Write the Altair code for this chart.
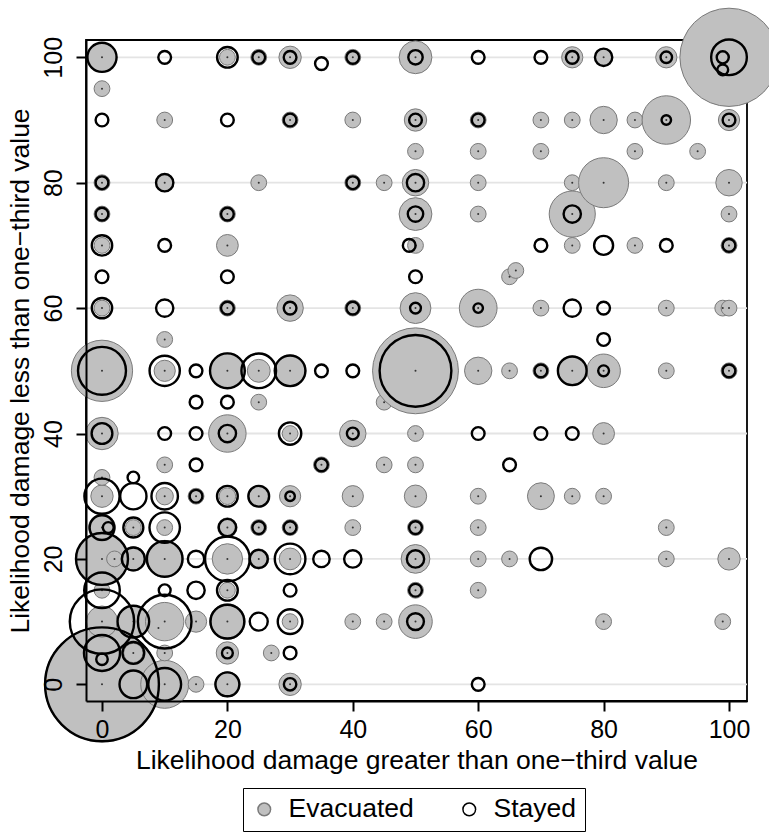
import altair as alt
import pandas as pd

FONT = "Liberation Sans"

# ---- Evacuated (grey filled markers): x, y, weight ----
evac_x = [0, 20, 25, 30, 40, 50, 75, 80, 90, 100,
          0,
          10, 30, 40, 50, 60, 70, 75, 80, 85, 90, 100,
          50, 60, 70, 85, 95,
          0, 10, 25, 40, 45, 50, 60, 75, 80, 90, 100,
          0, 20, 50, 60, 75, 100,
          0, 20, 50, 75, 85, 100,
          66, 65,
          0, 20, 30, 40, 50, 60, 70, 90, 99, 100,
          10,
          0, 10, 20, 25, 30, 50, 60, 65, 70, 75, 80, 90, 100,
          25, 45,
          0, 20, 30, 40, 50, 80,
          10, 35, 45, 50,
          0,
          0, 10, 15, 20, 25, 30, 40, 50, 60, 70, 75, 80,
          0, 5, 10, 20, 25, 30, 40, 50, 60, 90,
          0, 2, 5, 10, 20, 25, 30, 50, 60, 65, 90, 100,
          0, 20, 50, 60,
          0, 5, 9, 10, 15, 20, 30, 40, 45, 50, 80, 99,
          5, 10, 20, 27,
          0, 10, 15, 20, 30]
evac_y = [100, 100, 100, 100, 100, 100, 100, 100, 100, 100,
          95,
          90, 90, 90, 90, 90, 90, 90, 90, 90, 90, 90,
          85, 85, 85, 85, 85,
          80, 80, 80, 80, 80, 80, 80, 80, 80, 80, 80,
          75, 75, 75, 75, 75, 75,
          70, 70, 70, 70, 70, 70,
          66, 65,
          60, 60, 60, 60, 60, 60, 60, 60, 60, 60,
          55,
          50, 50, 50, 50, 50, 50, 50, 50, 50, 50, 50, 50, 50,
          45, 45,
          40, 40, 40, 40, 40, 40,
          35, 35, 35, 35,
          33,
          30, 30, 30, 30, 30, 30, 30, 30, 30, 30, 30, 30,
          25, 25, 25, 25, 25, 25, 25, 25, 25, 25,
          20, 20, 20, 20, 20, 20, 20, 20, 20, 20, 20, 20,
          15, 15, 15, 15,
          10, 10, 9, 10, 10, 10, 10, 10, 10, 10, 10, 10,
          5, 5, 5, 5,
          0, 0, 0, 0, 0]
evac_w = [3.5, 1, 1, 2, 1, 4.3, 1.8, 1.2, 1.8, 38.6,
          1,
          1, 1, 1, 2, 1, 1, 1, 3, 1, 9.4, 1.8,
          1, 1, 1, 1, 1,
          1, 1.3, 1, 1, 1, 2.8, 1, 1, 10, 1, 2.8,
          1, 1, 4.3, 1, 8.5, 1,
          1, 1.9, 1, 1, 1, 1,
          1, 1,
          1, 1, 2.8, 1, 3.8, 5.7, 1, 1, 1, 1,
          1,
          15, 1.8, 5, 2.1, 4, 29.5, 3, 1, 1, 3.5, 4.5, 1, 1,
          1, 1,
          4.2, 5.6, 1, 2.8, 1, 1.9,
          1, 1, 1, 1,
          1,
          2, 1.2, 1, 1.1, 1.8, 1.8, 1.8, 2, 1, 2.9, 1, 1,
          2.9, 1, 1, 1.5, 1, 1, 1, 1, 1, 1,
          11, 1, 2.4, 5.5, 3.7, 1.6, 1.9, 3.3, 1, 1, 1, 2,
          1, 1, 1, 1,
          3.9, 4, 1, 5.9, 1.8, 5, 1, 1, 1, 4.5, 1, 1,
          1.5, 1, 2, 1,
          53, 9.2, 1, 2.5, 2]

# ---- Stayed (black hollow markers): x, y, weight ----
stay_x = [0, 10, 20, 25, 30, 35, 40, 50, 60, 70, 75, 80, 90, 100, 99, 99,
          0, 20, 30, 50, 60, 90, 100,
          0, 10, 40, 50,
          0, 20, 50, 75,
          0, 10, 49, 70, 80, 90, 100,
          0, 20, 50,
          0, 10, 20, 30, 40, 50, 60, 75, 80,
          80,
          0, 10, 15, 20, 25, 30, 35, 40, 50, 70, 75, 80, 100,
          15, 20,
          0, 10, 15, 20, 30, 40, 60, 70, 75,
          15, 35, 65,
          5,
          0, 5, 10, 15, 20, 25, 30,
          0, 1, 5, 10, 20, 25, 30, 50,
          0, 5, 10, 15, 20, 25, 30, 35, 40, 50, 70,
          0, 10, 15, 20, 30, 50,
          0, 5, 10, 20, 25, 30, 50,
          0, 0, 5, 20, 30,
          0, 5, 10, 20, 30, 60]
stay_y = [100, 100, 100, 100, 100, 99, 100, 100, 100, 100, 100, 100, 100, 100, 100, 98,
          90, 90, 90, 90, 90, 90, 90,
          80, 80, 80, 80,
          75, 75, 75, 75,
          70, 70, 70, 70, 70, 70, 70,
          65, 65, 65,
          60, 60, 60, 60, 60, 60, 60, 60, 60,
          55,
          50, 50, 50, 50, 50, 50, 50, 50, 50, 50, 50, 50, 50,
          45, 45,
          40, 40, 40, 40, 40, 40, 40, 40, 40,
          35, 35, 35,
          33,
          30, 30, 30, 30, 30, 30, 30,
          25, 25, 25, 25, 25, 25, 25, 25,
          20, 20, 20, 20, 20, 20, 20, 20, 20, 20, 20,
          15, 15, 15, 15, 15, 15,
          10, 10, 10, 10, 10, 10, 10,
          5, 4, 5, 5, 5,
          0, 0, 0, 0, 0, 0]
stay_w = [3.4, 0.65, 1.7, 0.65, 0.65, 0.65, 0.65, 0.83, 0.65, 0.65, 0.65, 1.2, 0.53, 5.1, 0.58, 0.47,
          0.65, 0.65, 0.65, 0.65, 0.65, 0.36, 0.65,
          0.65, 1.2, 0.65, 1.2,
          0.65, 0.65, 0.95, 1.2,
          1.66, 0.65, 0.65, 0.65, 1.44, 0.65, 0.65,
          0.65, 0.65, 0.65,
          1.66, 1.2, 0.65, 0.65, 0.65, 0.47, 0.36, 1.2, 0.65,
          0.65,
          9.2, 3.66, 0.65, 4.84, 4.8, 3.75, 0.65, 0.65, 20.6, 0.65, 3.3, 0.47, 0.65,
          0.65, 0.65,
          1.72, 0.65, 0.65, 1.2, 2.0, 0.56, 0.65, 0.65, 0.65,
          0.65, 0.65, 0.65,
          0.53,
          4.95, 2.76, 2.8, 0.65, 1.72, 1.72, 0.36,
          2.44, 0.47, 1.6, 3.7, 1.2, 0.65, 0.65, 0.65,
          10.8, 2.1, 5.06, 1.08, 8.0, 1.3, 3.75, 1.08, 1.2, 1.2, 2.0,
          5.06, 0.56, 1.2, 1.72, 0.65, 0.65,
          16.6, 4.0, 11.5, 4.57, 1.3, 2.44, 1.13,
          5.2, 0.53, 1.9, 0.47, 0.65,
          51.8, 3.06, 4.3, 2.29, 0.62, 0.65]

tick_values = [0, 20, 40, 60, 80, 100]
groups = ["Evacuated", "Stayed"]
x_title = "Likelihood damage greater than one\u2212third value"
y_title = "Likelihood damage less than one\u2212third value"

evac = pd.DataFrame({"x": evac_x, "y": evac_y, "w": evac_w, "group": "Evacuated"})
evac = evac.sort_values(["x", "y"], kind="stable")
stay = pd.DataFrame({"x": stay_x, "y": stay_y, "w": stay_w, "group": "Stayed"})
stay = stay.sort_values(["x", "y"], kind="stable")
grid = pd.DataFrame({"y": tick_values})

xs = alt.Scale(domain=[-2.55, 102.87], nice=False, zero=False)
ys = alt.Scale(domain=[-2.66, 102.76], nice=False, zero=False)
size_scale = alt.Scale(type="linear", domain=[0, 60], range=[0, 60 * 250], zero=True)
fill_scale = alt.Scale(domain=groups, range=["#c0c0c0", "transparent"])
stroke_scale = alt.Scale(domain=groups, range=["#7a7a7a", "#000000"])

xaxis = alt.Axis(values=tick_values, grid=False, labelAngle=0, labelAlign="center",
                 labelBaseline="alphabetic", labelPadding=26, labelFlush=False,
                 labelOverlap=False, tickSize=10, tickWidth=2, tickColor="black",
                 domainColor="black", domainWidth=2, labelFont=FONT, labelFontSize=25,
                 labelColor="black", titleFont=FONT, titleFontSize=26.5,
                 titleFontWeight="normal", titleColor="black", titleX=330.5, titleY=67,
                 titleAlign="center", titleBaseline="alphabetic", zindex=1)
yaxis = alt.Axis(values=tick_values, grid=False, labelAngle=270, labelAlign="center",
                 labelBaseline="alphabetic", labelPadding=15, labelFlush=False,
                 labelOverlap=False, tickSize=10, tickWidth=2, tickColor="black",
                 domainColor="black", domainWidth=2, labelFont=FONT, labelFontSize=25,
                 labelColor="black", titleFont=FONT, titleFontSize=26.5,
                 titleFontWeight="normal", titleColor="black", titleAngle=270,
                 titleX=-58, titleY=330.5, titleAlign="center",
                 titleBaseline="alphabetic", zindex=1)

legend = alt.Legend(title=None, orient="none", legendX=157, legendY=748,
                    direction="horizontal", symbolType="circle", symbolSize=160,
                    symbolStrokeWidth=1.5, labelFont=FONT, labelFontSize=26.5,
                    labelColor="black", strokeColor="black", fillColor="white",
                    padding=8, columnPadding=42, labelOffset=11, symbolOpacity=1)

X = alt.X("x:Q", scale=xs, axis=xaxis, title=x_title)
Y = alt.Y("y:Q", scale=ys, axis=yaxis, title=y_title)

gridlines = alt.Chart(grid).mark_rule(color="#e4e4e4", strokeWidth=1.8).encode(y=Y)

gray = alt.Chart(evac).mark_circle(opacity=1, strokeWidth=1).encode(
    x=X, y=Y,
    size=alt.Size("w:Q", scale=size_scale, legend=None),
    fill=alt.Fill("group:N", scale=fill_scale, legend=legend),
    stroke=alt.Stroke("group:N", scale=stroke_scale, legend=legend),
)
dots = alt.Chart(evac).mark_circle(size=4, color="#333333", opacity=1).encode(x=X, y=Y)
rings = alt.Chart(stay).mark_circle(opacity=1, strokeWidth=2.4).encode(
    x=X, y=Y,
    size=alt.Size("w:Q", scale=size_scale, legend=None),
    fill=alt.Fill("group:N", scale=fill_scale, legend=legend),
    stroke=alt.Stroke("group:N", scale=stroke_scale, legend=legend),
)

chart = alt.layer(gridlines, gray, dots, rings).properties(
    width=661, height=661,
    padding={"left": 86, "top": 40, "right": 22, "bottom": 135},
    autosize=alt.AutoSizeParams(type="none"),
    background="white",
).configure_view(stroke="black", strokeWidth=1.8)

chart.save("out.html", embed_options={"renderer": "svg", "actions": False})
